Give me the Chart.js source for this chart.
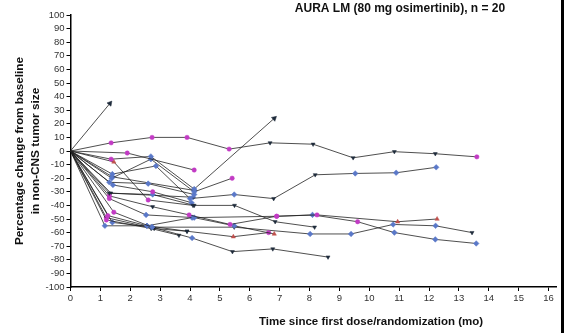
<!DOCTYPE html>
<html>
<head>
<meta charset="utf-8">
<script src="https://cdn.jsdelivr.net/npm/chart.js@4.4.0/dist/chart.umd.min.js"></script>
<style>
  html, body { margin: 0; padding: 0; background: #fff; }
  #wrap { position: relative; width: 564px; height: 333px; }
  #edge { position: absolute; right: 0; top: 0; width: 3px; height: 333px; background: #000; }
</style>
</head>
<body>
<div id="wrap">
  <canvas id="spider" width="564" height="333"></canvas>
  <div id="edge"></div>
</div>
<script>
// each patient: [months, % change] pairs, and one marker code per point
// p = pink circle, b = blue diamond, d = dark triangle, r = red, A = arrow (ongoing), - = none
const pt01 = [[0,0],[1.32,35]];
const mk01 = "-A";
const pt02 = [[0,0],[1.36,6],[2.73,10],[3.9,10],[5.31,1.4],[6.68,6],[8.12,5],[9.46,-5],[10.84,-0.5],[12.21,-2],[13.6,-4.3]];
const mk02 = "-ppppdddddp";
const pt03 = [[0,0],[1.9,-1.5],[4.14,-14]];
const mk03 = "-pp";
const pt04 = [[0,0],[1.36,-6],[2.69,-4],[4.14,-28],[6.82,24]];
const mk04 = "-pbbA";
const pt05 = [[0,0],[1.45,-8],[2.6,-36],[4.1,-40]];
const mk05 = "-rpd";
const pt06 = [[0,0],[1.4,-17],[2.86,-11],[4.0,-35],[5.48,-32],[6.8,-35],[8.19,-17.5],[9.53,-16.5],[10.9,-16],[12.24,-12]];
const mk06 = "-bbbbddbbb";
const pt07 = [[0,0],[1.38,-20],[2.69,-6],[4.14,-30],[5.41,-20]];
const mk07 = "-bbbp";
const pt08 = [[0,0],[1.3,-23],[2.6,-24],[4.14,-32]];
const mk08 = "-bbb";
const pt09 = [[0,0],[1.42,-25],[2.75,-30],[4.05,-38]];
const mk09 = "-bpb";
const pt10 = [[0,0],[1.3,-31],[2.75,-32],[4.14,-40],[5.49,-40],[6.85,-52],[8.17,-56]];
const mk10 = "-dbdddd";
const pt11 = [[0,0],[1.3,-33],[2.75,-41],[3.97,-47],[5.34,-54],[6.9,-48],[8.25,-47],[10.95,-52],[12.27,-50]];
const mk11 = "-pdpppprr";
const pt12 = [[0,0],[1.3,-35],[2.53,-47],[4.14,-49],[5.48,-55],[6.82,-61]];
const mk12 = "-pbbbr";
const pt13 = [[0,0],[1.45,-45],[2.73,-56],[4.07,-64],[5.42,-74],[6.77,-72],[8.62,-78]];
const mk13 = "-pbbddd";
const pt14 = [[0,0],[1.25,-47.5],[2.56,-55],[3.9,-59],[5.45,-63],[6.63,-60]];
const mk14 = "-pbdrp";
const pt15 = [[0,0],[1.2,-50.7],[2.7,-57],[3.63,-62]];
const mk15 = "-pdd";
const pt16 = [[0,0],[1.4,-52.5],[2.73,-56],[5.48,-56],[8.02,-61],[9.39,-61],[10.8,-54],[12.22,-55],[13.44,-60]];
const mk16 = "-bbdbbbbd";
const pt17 = [[0,0],[1.15,-55],[2.56,-55],[4.07,-49],[6.9,-48],[8.1,-47],[9.61,-52],[10.84,-60],[12.21,-65],[13.58,-68]];
const mk17 = "-bbbpbpbbb";
const pt18 = [[0,0],[1.4,-19],[4.14,-29]];
const mk18 = "-bb";
const pt19 = [[0,0],[1.35,-31],[4.1,-34]];
const mk19 = "-db";
const pt20 = [[0,0],[1.2,-49],[2.8,-57],[3.9,-59]];
const mk20 = "-pdd";

const patients = [pt01, pt02, pt03, pt04, pt05, pt06, pt07, pt08, pt09, pt10,
                  pt11, pt12, pt13, pt14, pt15, pt16, pt17, pt18, pt19, pt20];
const markers = [mk01, mk02, mk03, mk04, mk05, mk06, mk07, mk08, mk09, mk10,
                 mk11, mk12, mk13, mk14, mk15, mk16, mk17, mk18, mk19, mk20];

const yTicks = [-100, -90, -80, -70, -60, -50, -40, -30, -20, -10, 0, 10, 20, 30, 40, 50, 60, 70, 80, 90, 100];
const studyTitle = "AURA LM (80 mg osimertinib), n = 20";
const xTitle = "Time since first dose/randomization (mo)";
const yTitle = ["Percentage change from baseline", "in non-CNS tumor size"];

const FONT = '"Liberation Sans", Arial, Helvetica, sans-serif';
const colors = { p: "#c23bc4", b: "#5a78c8", d: "#1e2b3b", r: "#c0504d", A: "#1e2b3b", "-": "rgba(0,0,0,0)" };
const shapes = { p: "circle", b: "rectRot", d: "triangle", r: "triangle", A: "triangle", "-": "circle" };
const sizes = { p: 2.2, b: 2.8, d: 2.3, r: 2.5, A: 3, "-": 0 };

// arrows point along the last segment
function arrowAngle(ctx) {
  const code = markers[ctx.datasetIndex][ctx.dataIndex];
  if (code === "d") return 180;
  if (code !== "A") return 0;
  const chart = ctx.chart;
  const pts = patients[ctx.datasetIndex];
  const i = ctx.dataIndex;
  const xs = chart.scales.x, ys = chart.scales.y;
  const dx = xs.getPixelForValue(pts[i][0]) - xs.getPixelForValue(pts[i - 1][0]);
  const dy = ys.getPixelForValue(pts[i][1]) - ys.getPixelForValue(pts[i - 1][1]);
  return Math.atan2(dx, -dy) * 180 / Math.PI;
}

const datasets = patients.map((pts, k) => ({
  data: pts.map(p => ({ x: p[0], y: p[1] })),
  borderColor: "#222",
  borderWidth: 0.8,
  fill: false,
  tension: 0,
  pointStyle: ctx => shapes[markers[k][ctx.dataIndex]],
  pointRadius: ctx => sizes[markers[k][ctx.dataIndex]],
  pointBackgroundColor: ctx => colors[markers[k][ctx.dataIndex]],
  pointBorderColor: ctx => colors[markers[k][ctx.dataIndex]],
  pointBorderWidth: 0.5,
  pointRotation: arrowAngle
}));

const captions = {
  id: "captions",
  afterDraw(chart) {
    const ctx = chart.ctx;
    ctx.save();
    ctx.fillStyle = "#111";
    ctx.textAlign = "center";
    ctx.textBaseline = "middle";
    ctx.font = "bold 12px " + FONT;
    ctx.fillText(studyTitle, 400, 9);
    ctx.font = "bold 11.5px " + FONT;
    ctx.fillText(xTitle, 371, 322);
    ctx.restore();
  }
};

new Chart(document.getElementById("spider"), {
  type: "line",
  data: { datasets },
  plugins: [captions],
  options: {
    responsive: false,
    animation: false,
    layout: { padding: { top: 15, right: 8, left: 0, bottom: 0 } },
    plugins: { legend: { display: false }, tooltip: { enabled: false }, title: { display: false } },
    scales: {
      x: {
        type: "linear",
        min: 0,
        max: 16.25,
        afterFit(scale) { scale.height = 46; },
        ticks: {
          stepSize: 1,
          includeBounds: false,
          autoSkip: false,
          maxRotation: 0,
          padding: 2,
          color: "#333",
          font: { family: FONT, size: 9.5 }
        },
        grid: { display: true, drawOnChartArea: false, drawTicks: true, tickLength: 4, color: "#000", lineWidth: 1 },
        border: { display: true, color: "#000", width: 1.5 }
      },
      y: {
        type: "linear",
        min: -100,
        max: 100,
        afterFit(scale) { scale.width = 70.5; },
        afterBuildTicks(scale) { scale.ticks = yTicks.map(v => ({ value: v })); },
        ticks: {
          autoSkip: false,
          padding: 2,
          color: "#333",
          font: { family: FONT, size: 9.5 }
        },
        title: {
          display: true,
          text: yTitle,
          color: "#111",
          font: { family: FONT, size: 11.8, weight: "bold", lineHeight: 1.4 },
          padding: { top: 11, bottom: 0 }
        },
        grid: { display: true, drawOnChartArea: false, drawTicks: true, tickLength: 4, color: "#000", lineWidth: 1 },
        border: { display: true, color: "#000", width: 1.5 }
      }
    }
  }
});
</script>
</body>
</html>
